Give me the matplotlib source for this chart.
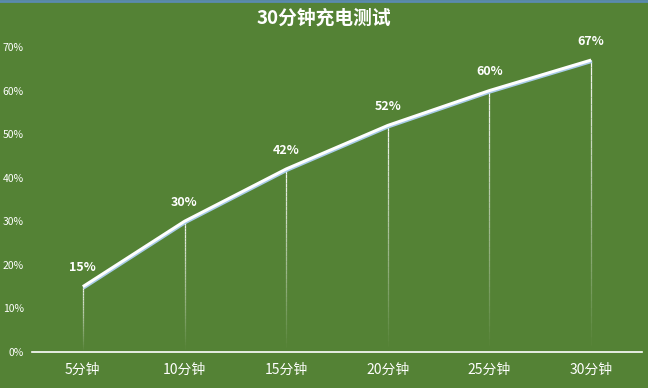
import numpy as np
import matplotlib.pyplot as plt
import matplotlib.patheffects as pe
from matplotlib.collections import LineCollection
from matplotlib.ticker import PercentFormatter

plt.rcParams['font.family'] = ['Noto Sans CJK SC', 'DejaVu Sans']

BG = '#548235'

categories = ['5分钟', '10分钟', '15分钟', '20分钟', '25分钟', '30分钟']
charge = [0.15, 0.30, 0.42, 0.52, 0.60, 0.67]
yticks = [0, 0.1, 0.2, 0.3, 0.4, 0.5, 0.6, 0.7]

fig = plt.figure(figsize=(6.48, 3.88), dpi=100, facecolor=BG)
ax = fig.add_axes([32 / 648, 1 - 352 / 388, 610 / 648, 305 / 388])
ax.set_facecolor(BG)
x = np.arange(len(categories))

# drop lines fading towards the axis
for xi, yi in zip(x, charge):
    n = 40
    ys = np.linspace(0, yi, n + 1)
    segs = [[(xi, ys[k]), (xi, ys[k + 1])] for k in range(n)]
    alphas = np.linspace(0.0, 0.95, n)
    cols = [(1, 1, 1, a) for a in alphas]
    ax.add_collection(LineCollection(segs, colors=cols, linewidths=0.9, zorder=2))

ax.plot(x, charge, color='white', lw=2.2, solid_capstyle='butt', zorder=3,
        path_effects=[pe.SimpleLineShadow(offset=(0.5, -1.0), shadow_color='#a9cce8', alpha=1),
                      pe.Normal()])

for xi, yi in zip(x, charge):
    ax.annotate(f'{int(round(yi * 100))}%', (xi, yi), xytext=(0, 9), textcoords='offset points',
                ha='center', va='bottom', color='white', fontsize=9, fontweight='bold')

ax.set_xlim(-0.5, len(categories) - 0.5)
ax.set_ylim(0, 0.7)
ax.set_yticks(yticks)
ax.yaxis.set_major_formatter(PercentFormatter(1.0, decimals=0))
ax.set_xticks(x)
ax.set_xticklabels(categories)
ax.tick_params(axis='y', length=0, colors='white', labelsize=7.5, pad=6)
ax.tick_params(axis='x', length=0, colors='white', labelsize=10, pad=8)
for s in ['top', 'right', 'left']:
    ax.spines[s].set_visible(False)
ax.spines['bottom'].set_color('white')
ax.spines['bottom'].set_linewidth(1.2)

fig.text(0.5, 1 - 18 / 388, '30分钟充电测试', ha='center', va='center', color='white',
         fontsize=13.5, fontweight='bold')
fig.add_artist(plt.Line2D([0, 1], [0.998, 0.998], color='#5a8ab0', lw=2))

fig.savefig('out.png', dpi=100, facecolor=BG)
